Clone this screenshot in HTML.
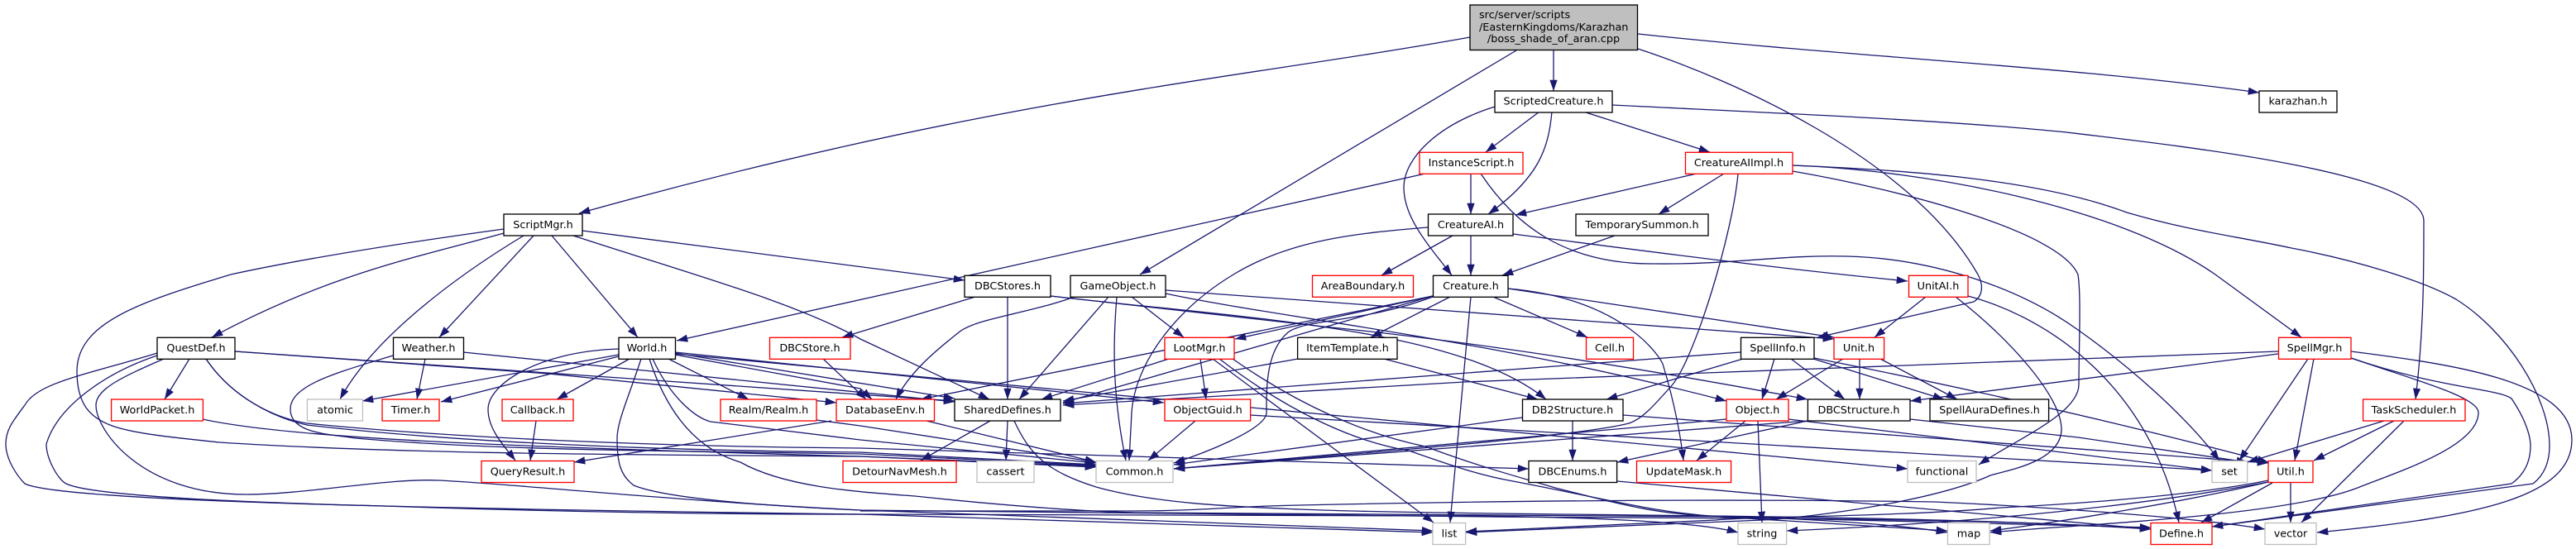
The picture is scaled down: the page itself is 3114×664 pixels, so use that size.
<!DOCTYPE html>
<html><head><meta charset="utf-8"><style>
html,body{margin:0;padding:0;background:#fff}
svg{display:block}
text{font-family:"DejaVu Sans",sans-serif;font-size:12.8px;fill:#000;text-anchor:middle}
.n rect{fill:#fff;stroke:#000;stroke-width:1.33}
.r rect{stroke:#f00}
.g rect{stroke:#bfbfbf}
</style></head><body>
<svg width="3114" height="664" viewBox="0 0 3114 664" xmlns="http://www.w3.org/2000/svg">
<defs><marker id="a" markerUnits="userSpaceOnUse" markerWidth="14" markerHeight="10" refX="13.3" refY="4.65" orient="auto"><path d="M0,0L13.3,4.65L0,9.3z" fill="#191970"/></marker></defs>
<g fill="none" stroke="#191970" stroke-width="1.3" marker-end="url(#a)">
<path d="M1777,45C1500,95 1200,118 700,258"/>
<path d="M1833,61L1378,332"/>
<path d="M1878,61V110"/>
<path d="M1980,41C2250,70 2500,80 2731,112"/>
<path d="M1980,59C2090,95 2310,190 2391,332C2398,345 2397,358 2386,365L2197,408"/>
<path d="M1949,127C2150,137 2350,145 2498,160C2650,178 2930,210 2930,267C2930,330 2930,400 2920,483"/>
<path d="M1807,129C1740,150 1697,190 1697,227C1697,265 1730,300 1755,333"/>
<path d="M1861,135L1796,184"/>
<path d="M1876,135C1872,180 1860,215 1799,259"/>
<path d="M1914,135L2067,184"/>
<path d="M1723,210L818,412"/>
<path d="M1778,210V259"/>
<path d="M1790,210C1830,270 1890,320 2000,319C2100,320 2150,308 2233,310C2320,312 2430,340 2512,399C2570,440 2640,500 2683,557"/>
<path d="M1829,283C2000,305 2150,325 2306,340"/>
<path d="M2167,200C2330,206 2560,250 2678,332L2782,408"/>
<path d="M2167,200C2290,205 2460,215 2571,257C2650,280 2700,285 2770,300C2850,315 2930,340 2969,362C3030,400 3082,480 3082,539C3082,560 3075,575 3062,585L2674,637"/>
<path d="M2167,207C2300,230 2490,280 2512,332C2516,360 2513,420 2513,465C2513,500 2440,530 2392,562"/>
<path d="M2101,210C2095,280 2050,430 2022,465C2000,490 1985,507 1969,512C1900,530 1560,555 1419,567"/>
<path d="M2051,210L1832,260"/>
<path d="M2084,210L2005,259"/>
<path d="M1952,285L1816,333"/>
<path d="M1726,275C1640,282 1560,290 1491,332C1420,375 1372,440 1368,499L1365,557"/>
<path d="M1756,285L1670,333"/>
<path d="M1778,285V333"/>
<path d="M609,277C500,292 380,310 279,332C170,365 93,390 93,449C93,490 110,505 133,514C160,525 220,530 265,535C500,550 800,550 1040,552L1325,564"/>
<path d="M609,282C510,310 400,330 256,408"/>
<path d="M633,285C550,335 450,410 411,483"/>
<path d="M645,285L531,408"/>
<path d="M667,285L771,408"/>
<path d="M693,285C830,330 960,365 1040,410L1196,483"/>
<path d="M704,279L1166,339"/>
<path d="M190,427C110,452 45,462 30,490C15,510 7,520 7,537C7,555 20,575 30,585C60,600 300,608 464,612C700,618 900,620 1040,622L1732,644"/>
<path d="M190,430C130,450 70,490 56,537C56,555 70,580 80,585C110,600 300,608 464,612C700,620 900,622 1040,622L1770,624C1900,625 2050,630 2101,644"/>
<path d="M198,434C150,455 116,470 116,490C116,520 170,598 298,598C370,598 470,578 530,581C620,585 800,605 1040,617L1800,625C2000,627 2400,625 2600,640"/>
<path d="M229,434L199,483"/>
<path d="M249,434C280,480 330,505 371,512C550,530 800,540 1040,542L1305,550L1848,567"/>
<path d="M249,434C280,480 330,505 371,514C550,535 800,545 1040,547L1325,562"/>
<path d="M284,425L1154,485"/>
<path d="M284,425L663,452L1011,487"/>
<path d="M560,426L1154,486"/>
<path d="M514,434L504,483"/>
<path d="M475,430C410,450 351,465 351,495C351,525 400,525 430,530C600,545 800,545 1040,549L1325,563"/>
<path d="M245,507C350,530 600,540 1040,552L1325,565"/>
<path d="M748,422C650,425 590,465 590,495C590,520 610,540 623,557"/>
<path d="M748,429L438,485"/>
<path d="M748,431L533,486"/>
<path d="M761,434L673,483"/>
<path d="M775,434C760,480 746,510 746,530C746,560 750,575 766,587C810,605 950,613 1040,617L1732,642"/>
<path d="M808,434L905,483"/>
<path d="M785,434C800,480 830,540 895,559C950,590 1040,595 1106,600C1200,610 1300,618 1372,620L2100,625C2200,628 2300,635 2354,644"/>
<path d="M789,434C810,480 840,505 859,510L1040,532L1325,560"/>
<path d="M816,426L1407,487"/>
<path d="M816,427L1154,482"/>
<path d="M816,429L1040,470L1054,483"/>
<path d="M816,428L2306,567"/>
<path d="M1511,502L2674,569"/>
<path d="M987,508L1040,515L1325,559"/>
<path d="M1005,509L694,559"/>
<path d="M1120,509L1325,559"/>
<path d="M648,509L641,557"/>
<path d="M995,434L1047,483"/>
<path d="M1179,359L1018,408"/>
<path d="M1218,359V483"/>
<path d="M1270,358C1500,385 1760,395 1869,483"/>
<path d="M1270,358L1600,395C1650,400 1850,420 2185,483"/>
<path d="M1340,359L1232,483"/>
<path d="M1350,359C1345,420 1345,480 1361,557"/>
<path d="M1368,359L1431,408"/>
<path d="M1299,359C1240,380 1180,385 1159,402C1130,425 1100,450 1083,483"/>
<path d="M1409,351L2217,410"/>
<path d="M1409,355C1550,385 1800,410 2087,485"/>
<path d="M1732,358L1493,410"/>
<path d="M1732,358L1113,483"/>
<path d="M1732,358L1285,487"/>
<path d="M1732,359C1650,390 1580,385 1557,402C1530,425 1531,470 1531,499C1531,520 1450,550 1419,560"/>
<path d="M1753,359L1657,408"/>
<path d="M1805,359L1919,408"/>
<path d="M1778,359L1753,632"/>
<path d="M1823,349C1950,360 2000,420 2010,440C2025,490 2032,530 2035,557"/>
<path d="M1823,349L2217,408"/>
<path d="M1413,434L1259,483"/>
<path d="M1451,434L1458,483"/>
<path d="M1466,434L1733,632"/>
<path d="M1474,434C1560,500 1640,535 1703,545C1760,565 1790,575 1829,582C1950,605 2000,620 2080,625L2354,642"/>
<path d="M1490,434C1570,490 1650,525 1723,540C1790,565 1830,575 1880,590C1960,610 2000,622 2080,625L2600,638"/>
<path d="M1569,434L1285,485"/>
<path d="M1673,434L1859,483"/>
<path d="M1445,509L1388,557"/>
<path d="M1901,509V557"/>
<path d="M1840,505L1419,562"/>
<path d="M1962,502L2742,560"/>
<path d="M1197,509L1113,557"/>
<path d="M1218,509L1216,557"/>
<path d="M1226,509C1245,550 1265,570 1325,589C1400,610 1500,613 1571,616C1800,625 2300,620 2600,640"/>
<path d="M1955,582L2600,640"/>
<path d="M1040,618L1372,618C1450,618 1500,612 1571,611C1800,606 2080,603 2339,607C2450,612 2650,625 2738,640"/>
<path d="M2328,359L2266,408"/>
<path d="M2364,359C2430,410 2492,480 2492,519C2492,560 2420,570 2406,575C2340,605 2200,625 2130,629L1772,644"/>
<path d="M2379,358C2480,385 2600,470 2634,632"/>
<path d="M2228,434L2147,483"/>
<path d="M2248,434V483"/>
<path d="M2273,434L2366,483"/>
<path d="M2104,426L1285,488"/>
<path d="M2165,434L2230,483"/>
<path d="M2192,434L2350,483"/>
<path d="M2145,434L2130,483"/>
<path d="M2193,433C2330,460 2520,500 2742,559"/>
<path d="M2107,434L1942,483"/>
<path d="M2754,425L1770,462L1285,490"/>
<path d="M2754,428L2309,485"/>
<path d="M2790,434L2707,557"/>
<path d="M2797,434L2774,557"/>
<path d="M2842,433C2920,460 2996,480 2996,499C2996,540 2900,570 2850,590C2760,625 2500,635 2406,644"/>
<path d="M2842,433C2950,470 3020,470 3036,482C3055,510 3059,530 3059,539C3059,560 3050,575 3036,585L2674,637"/>
<path d="M2842,425C2960,440 3109,460 3109,532C3109,600 3000,625 2801,644"/>
<path d="M2882,509L2717,559"/>
<path d="M2894,509L2797,557"/>
<path d="M2906,509L2782,632"/>
<path d="M2125,509L2130,632"/>
<path d="M2087,507L1419,567"/>
<path d="M2110,509L2051,557"/>
<path d="M2162,507L2674,569"/>
<path d="M2185,509L1955,559"/>
<path d="M2185,509L1419,567"/>
<path d="M2309,507L2512,529L2717,559"/>
<path d="M2742,581C2650,600 2500,610 2419,614C2300,625 2100,625 2074,629L1772,643"/>
<path d="M2742,583C2600,610 2400,632 2160,642"/>
<path d="M2742,583C2650,605 2500,630 2406,642"/>
<path d="M2747,584L2661,632"/>
<path d="M2769,584V632"/>
</g>
<g class="n">
<rect x="1777" y="6" width="202.500" height="54.500" style="fill:#bfbfbf"/>
<text x="1788" y="22" style="text-anchor:start">src/server/scripts</text>
<text x="1788" y="37" style="text-anchor:start">/EasternKingdoms/Karazhan</text>
<text x="1878" y="51">/boss_shade_of_aran.cpp</text>
<rect x="1807" y="110" width="142" height="26"/><text x="1878" y="126.500">ScriptedCreature.h</text>
<rect x="2731" y="110" width="94" height="26"/><text x="2778" y="126.500">karazhan.h</text>
<rect x="609" y="259" width="95" height="26"/><text x="656.500" y="276">ScriptMgr.h</text>
<rect x="1726.500" y="259" width="102.500" height="26"/><text x="1778" y="276">CreatureAI.h</text>
<rect x="1905" y="259" width="160" height="26"/><text x="1985" y="276">TemporarySummon.h</text>
<rect x="1166" y="333.300" width="104" height="26"/><text x="1218" y="350">DBCStores.h</text>
<rect x="1294" y="333.300" width="115" height="26"/><text x="1351.500" y="350">GameObject.h</text>
<rect x="1732.500" y="333.300" width="90.500" height="26"/><text x="1778" y="350">Creature.h</text>
<rect x="190" y="408.300" width="94" height="26"/><text x="237" y="425">QuestDef.h</text>
<rect x="475.500" y="408.300" width="85" height="26"/><text x="518" y="425">Weather.h</text>
<rect x="748" y="408.300" width="68.500" height="26"/><text x="782" y="425">World.h</text>
<rect x="1568.600" y="408.300" width="120.400" height="26"/><text x="1629" y="425">ItemTemplate.h</text>
<rect x="2104.500" y="408.300" width="88.500" height="26"/><text x="2149" y="425">SpellInfo.h</text>
<rect x="1154" y="483" width="128" height="26"/><text x="1218" y="500">SharedDefines.h</text>
<rect x="1840.500" y="483" width="121.500" height="26"/><text x="1901" y="500">DB2Structure.h</text>
<rect x="2185.400" y="483" width="123.600" height="26"/><text x="2247" y="500">DBCStructure.h</text>
<rect x="2333" y="483" width="143.600" height="26"/><text x="2405" y="500">SpellAuraDefines.h</text>
<rect x="1848" y="557.500" width="106.600" height="26"/><text x="1901" y="574.500">DBCEnums.h</text>
</g>
<g class="n r">
<rect x="1716" y="184.300" width="125" height="26"/><text x="1778.500" y="201">InstanceScript.h</text>
<rect x="2037.500" y="184.300" width="129.500" height="26"/><text x="2102" y="201">CreatureAIImpl.h</text>
<rect x="1586.500" y="333.300" width="122" height="26"/><text x="1647.500" y="350">AreaBoundary.h</text>
<rect x="2307.500" y="333.300" width="71.500" height="26"/><text x="2343" y="350">UnitAI.h</text>
<rect x="930.500" y="408.300" width="97.500" height="26"/><text x="979" y="425">DBCStore.h</text>
<rect x="1408" y="408.300" width="84" height="26"/><text x="1450" y="425">LootMgr.h</text>
<rect x="1917.500" y="408.300" width="57" height="26"/><text x="1946" y="425">Cell.h</text>
<rect x="2217" y="408.300" width="60.600" height="26"/><text x="2247" y="425">Unit.h</text>
<rect x="2754.500" y="408.300" width="87.500" height="26"/><text x="2798" y="425">SpellMgr.h</text>
<rect x="134.600" y="483" width="110.800" height="26"/><text x="190" y="500">WorldPacket.h</text>
<rect x="462" y="483" width="69" height="26"/><text x="496.500" y="500">Timer.h</text>
<rect x="607" y="483" width="86" height="26"/><text x="650" y="500">Callback.h</text>
<rect x="871" y="483" width="116" height="26"/><text x="929" y="500">Realm/Realm.h</text>
<rect x="1011" y="483" width="118.500" height="26"/><text x="1070" y="500">DatabaseEnv.h</text>
<rect x="1408" y="483" width="103.600" height="26"/><text x="1460" y="500">ObjectGuid.h</text>
<rect x="2087" y="483" width="75" height="26"/><text x="2124.500" y="500">Object.h</text>
<rect x="2856.600" y="483" width="123.400" height="26"/><text x="2918" y="500">TaskScheduler.h</text>
<rect x="582" y="557.500" width="112" height="26"/><text x="638" y="574.500">QueryResult.h</text>
<rect x="1019" y="557.500" width="137" height="26"/><text x="1087.500" y="574.500">DetourNavMesh.h</text>
<rect x="1978.500" y="557.500" width="114.100" height="26"/><text x="2035.500" y="574.500">UpdateMask.h</text>
<rect x="2742" y="557.500" width="54" height="26"/><text x="2769" y="574.500">Util.h</text>
<rect x="2600" y="632.500" width="74" height="26"/><text x="2637" y="649.500">Define.h</text>
</g>
<g class="n g">
<rect x="371.400" y="483" width="67" height="26"/><text x="405" y="500">atomic</text>
<rect x="1181" y="557.500" width="69" height="26"/><text x="1215.500" y="574.500">cassert</text>
<rect x="1325" y="557.500" width="93" height="26"/><text x="1371.500" y="574.500">Common.h</text>
<rect x="2306" y="557.500" width="83" height="26"/><text x="2347.500" y="574.500">functional</text>
<rect x="2674" y="557.500" width="42.700" height="26"/><text x="2695" y="574.500">set</text>
<rect x="1732" y="632.500" width="39.600" height="26"/><text x="1752" y="649.500">list</text>
<rect x="2101" y="632.500" width="58.600" height="26"/><text x="2130" y="649.500">string</text>
<rect x="2354.500" y="632.500" width="50.500" height="26"/><text x="2380" y="649.500">map</text>
<rect x="2738" y="632.500" width="62" height="26"/><text x="2769" y="649.500">vector</text>
</g>
</svg>
</body></html>
